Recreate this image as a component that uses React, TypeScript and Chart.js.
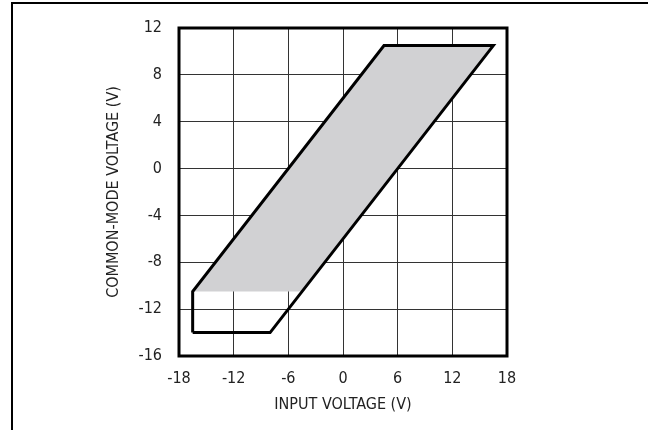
import React, { useEffect, useRef } from "react";
import { Chart, registerables } from "chart.js";

Chart.register(...registerables);

// Shaded operating region (parallelogram)
const fillX = [-16.5, 4.5, 16.5, -4.5, -16.5];
const fillY = [-10.5, 10.5, 10.5, -10.5, -10.5];

// Outline boundary
const outlineX = [-16.5, -16.5, 4.5, 16.5, -8, -16.5];
const outlineY = [-14, -10.5, 10.5, 10.5, -14, -14];

const xTicks = [-18, -12, -6, 0, 6, 12, 18];
const yTicks = [-16, -12, -8, -4, 0, 4, 8, 12];

const xTitle = "INPUT VOLTAGE (V)";
const yTitle = "COMMON-MODE VOLTAGE (V)";

const FONT = "'Liberation Sans Narrow', 'DejaVu Sans Condensed', 'Arial Narrow', sans-serif";

const framePlugin = {
  id: "frame",
  afterDatasetsDraw(chart: any) {
    const { ctx, chartArea } = chart;
    ctx.save();
    ctx.strokeStyle = "#000";
    ctx.lineWidth = 3;
    ctx.strokeRect(chartArea.left, chartArea.top, chartArea.right - chartArea.left, chartArea.bottom - chartArea.top);
    ctx.restore();
  },
};

export default function App() {
  const ref = useRef<HTMLCanvasElement>(null);
  useEffect(() => {
    if (!ref.current) return;
    const chart = new Chart(ref.current, {
      type: "scatter",
      data: {
        datasets: [
          {
            label: "outline",
            data: outlineX.map((x, i) => ({ x, y: outlineY[i] })),
            showLine: true,
            borderColor: "#000",
            borderWidth: 3,
            pointRadius: 0,
            fill: false,
            tension: 0,
            borderJoinStyle: "miter",
          } as any,
          {
            label: "region",
            data: fillX.map((x, i) => ({ x, y: fillY[i] })),
            showLine: true,
            borderWidth: 0,
            borderColor: "rgba(0,0,0,0)",
            backgroundColor: "#d1d1d3",
            pointRadius: 0,
            fill: "shape",
            tension: 0,
          } as any,
        ],
      },
      options: {
        animation: false,
        responsive: false,
        maintainAspectRatio: false,
        layout: { padding: { left: 0, right: 141, top: 28, bottom: 0 } },
        plugins: { legend: { display: false }, tooltip: { enabled: false } },
        scales: {
          x: {
            type: "linear",
            min: xTicks[0],
            max: xTicks[xTicks.length - 1],
            afterBuildTicks: (s: any) => { s.ticks = xTicks.map((v) => ({ value: v })); },
            afterFit: (s: any) => { s.height = 74; },
            ticks: { color: "#222", font: { family: FONT, size: 16 }, padding: 13, maxRotation: 0, autoSkip: false },
            grid: { color: "#333", lineWidth: 1, drawTicks: false },
            border: { display: false },
            title: { display: true, text: xTitle, color: "#222", font: { family: FONT, size: 16 }, padding: { top: 0, bottom: 16 } },
          },
          y: {
            type: "linear",
            min: yTicks[0],
            max: yTicks[yTicks.length - 1],
            afterBuildTicks: (s: any) => { s.ticks = yTicks.map((v) => ({ value: v })); },
            afterFit: (s: any) => { s.width = 179; },
            ticks: { color: "#222", font: { family: FONT, size: 16 }, padding: 17, autoSkip: false },
            grid: { color: "#333", lineWidth: 1, drawTicks: false },
            border: { display: false },
            title: { display: true, text: yTitle, color: "#222", font: { family: FONT, size: 16 }, padding: { top: 104, bottom: 0 } },
          },
        },
      },
      plugins: [framePlugin],
    });
    return () => chart.destroy();
  }, []);
  return (
    <div style={{ position: "fixed", left: 0, top: 0, width: 648, height: 430, background: "#fff", overflow: "hidden" }}>
      <div style={{ position: "absolute", left: 11, top: 2, right: -10, bottom: -10, borderLeft: "2px solid #000", borderTop: "2px solid #000" }} />
      <canvas ref={ref} width={648} height={430} style={{ position: "absolute", left: 0, top: 0, width: 648, height: 430 }} />
    </div>
  );
}
